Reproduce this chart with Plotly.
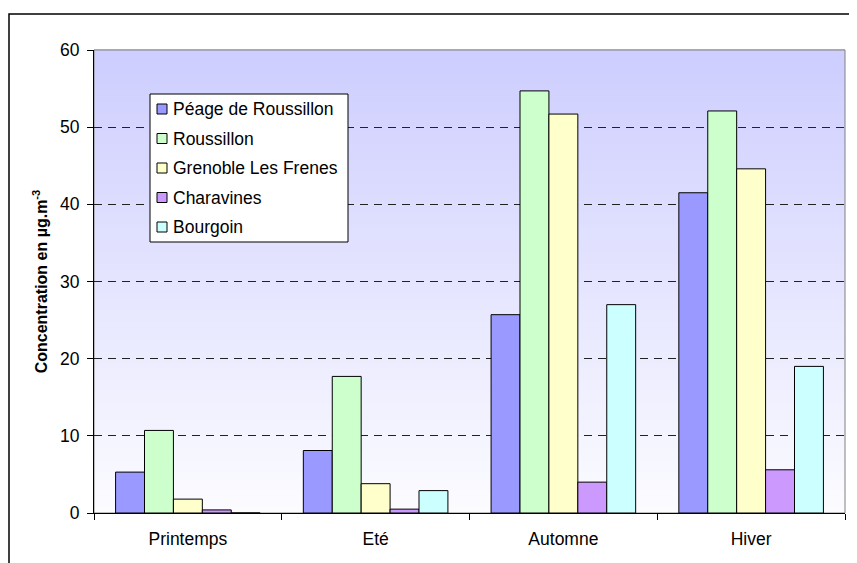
import plotly.graph_objects as go

# seasons on the x axis
saisons = ['Printemps', 'Eté', 'Automne', 'Hiver']

# concentrations per site (µg.m-3)
peage_roussillon = [5.3, 8.1, 25.7, 41.5]
roussillon = [10.7, 17.7, 54.7, 52.1]
grenoble_frenes = [1.8, 3.8, 51.7, 44.6]
charavines = [0.4, 0.5, 4.0, 5.6]
bourgoin = [0, 2.9, 27.0, 19.0]

sites = ['Péage de Roussillon', 'Roussillon', 'Grenoble Les Frenes', 'Charavines', 'Bourgoin']
valeurs = [peage_roussillon, roussillon, grenoble_frenes, charavines, bourgoin]
couleurs = ['#9999FF', '#CCFFCC', '#FFFFCC', '#CC99FF', '#CCFFFF']

fig = go.Figure()
for nom, vals, col in zip(sites, valeurs, couleurs):
    fig.add_trace(go.Bar(x=saisons, y=vals, name=nom, showlegend=False,
                         marker=dict(color=col, line=dict(color='#000000', width=1))))

# page has an 8px body margin, so the figure is 8px smaller than the window
W, H = 849, 555
L, T, PW, PH = 86, 42, 751, 463


def px(x):
    # screen x pixel -> paper x
    return (x - 94) / PW


def py(y):
    # screen y pixel -> paper y
    return (513 - y) / PH


# background gradient (light blue on top to near white at the bottom)
shapes = []
n = 80
top = (206, 206, 255)
bot = (252, 252, 255)
for i in range(n):
    t = i / (n - 1)
    r = int(bot[0] + (top[0] - bot[0]) * t)
    g = int(bot[1] + (top[1] - bot[1]) * t)
    b = int(bot[2] + (top[2] - bot[2]) * t)
    shapes.append(dict(type='rect', xref='paper', yref='paper', x0=0, x1=1,
                       y0=i / n, y1=(i + 1) / n + 0.002, layer='below',
                       fillcolor='rgb(%d,%d,%d)' % (r, g, b), line=dict(width=0)))
# plot area border
shapes.append(dict(type='rect', xref='paper', yref='paper', x0=0, x1=1, y0=0, y1=1,
                   layer='below', line=dict(color='#808080', width=1)))
# outer chart frame
shapes.append(dict(type='rect', xref='paper', yref='paper', x0=px(9), x1=px(870),
                   y0=py(580), y1=py(14), line=dict(color='#000000', width=1.5)))

# legend drawn by hand (Excel style: small square close to the label)
annotations = []
shapes.append(dict(type='rect', xref='paper', yref='paper', x0=px(150), x1=px(348),
                   y0=py(242), y1=py(94), fillcolor='white',
                   line=dict(color='#000000', width=1)))
for i, (nom, col) in enumerate(zip(sites, couleurs)):
    yc = 109 + 29.5 * i
    shapes.append(dict(type='rect', xref='paper', yref='paper', x0=px(157), x1=px(167),
                       y0=py(yc + 5), y1=py(yc - 5), fillcolor=col,
                       line=dict(color='#000000', width=1)))
    annotations.append(dict(text=nom, xref='paper', yref='paper', x=px(171), y=py(yc),
                            xanchor='left', yanchor='middle', showarrow=False,
                            font=dict(size=17.5, color='#000000')))

fig.update_layout(
    width=W, height=H,
    margin=dict(l=L, r=W - L - PW, t=T, b=H - T - PH),
    paper_bgcolor='white',
    plot_bgcolor='rgba(0,0,0,0)',
    font=dict(family='Liberation Sans, Arial, sans-serif', size=17, color='#000000'),
    barmode='group',
    bargap=0.23,
    bargroupgap=0,
    shapes=shapes,
    annotations=annotations,
    showlegend=False,
    xaxis=dict(showline=True, linecolor='#000000', linewidth=1,
               ticks='outside', ticklen=6, tickcolor='#000000',
               tickson='boundaries', showgrid=False, tickfont=dict(size=17.5),
               ticklabelstandoff=10),
    yaxis=dict(range=[0, 60], dtick=10, showline=True, linecolor='#000000',
               linewidth=1, ticks='outside', ticklen=6, tickcolor='#000000',
               showgrid=True, gridcolor='#222222', griddash='8px,6px', gridwidth=1,
               zeroline=False, tickfont=dict(size=17.5), ticklabelstandoff=4,
               title=dict(text='<b>Concentration en µg.m</b><sup><b>-3</b></sup>',
                          font=dict(size=16), standoff=8)),
)

fig.write_html("out.html")
